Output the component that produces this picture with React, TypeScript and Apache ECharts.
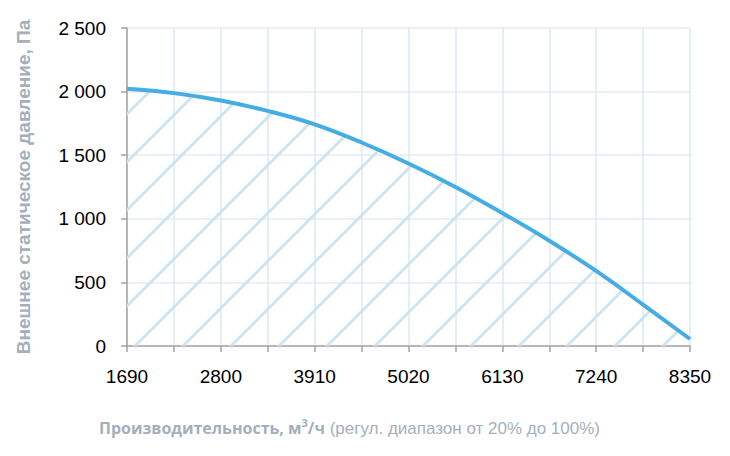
import React, { useEffect, useRef } from "react";
import * as echarts from "echarts";

const flowCategories = ["1690", "2245", "2800", "3355", "3910", "4465", "5020", "5575", "6130", "6685", "7240", "7795", "8350"];
const pressureValues = [2022, 1988, 1930, 1848, 1743, 1600, 1435, 1250, 1045, 828, 590, 325, 55];
const yTicks = { min: 0, max: 2500, interval: 500 };

const LABEL_FONT = '"Liberation Sans", Arial, sans-serif';
const TITLE_GRAY = "#a4afbb";

function hatchTile(): string {
  const s = 48;
  const svg =
    `<svg xmlns="http://www.w3.org/2000/svg" width="${s}" height="${s}">` +
    `<path d="M-2,3 L3,-2 M-2,51 L51,-2 M46,51 L51,46" stroke="#cbe5f1" stroke-width="3" fill="none"/>` +
    `</svg>`;
  return "data:image/svg+xml;charset=utf-8," + encodeURIComponent(svg);
}

function fmtY(v: number): string {
  if (v >= 1000) {
    return Math.floor(v / 1000) + " " + String(v % 1000).padStart(3, "0");
  }
  return String(v);
}

export default function App() {
  const ref = useRef<HTMLDivElement>(null);
  useEffect(() => {
    document.body.style.margin = "0";
    if (!ref.current) return;
    const chart = echarts.init(ref.current, null, { renderer: "svg" });
    chart.setOption({
      animation: false,
      backgroundColor: "#ffffff",
      grid: { left: 127, right: 40, top: 28, bottom: 110, containLabel: false },
      xAxis: {
        type: "category",
        data: flowCategories,
        boundaryGap: false,
        axisLine: { show: true, lineStyle: { color: "#a3a3a3", width: 1.5 } },
        axisTick: { show: true, interval: 0, length: 6, lineStyle: { color: "#a3a3a3", width: 1.5 } },
        axisLabel: { interval: 1, margin: 21, color: "#000", fontSize: 19, fontFamily: LABEL_FONT },
        splitLine: { show: true, interval: 0, lineStyle: { color: "#dee7f2", width: 1.5 } },
      },
      yAxis: {
        type: "value",
        min: yTicks.min,
        max: yTicks.max,
        interval: yTicks.interval,
        name: "Внешнее статическое давление, Па",
        nameLocation: "middle",
        nameRotate: 90,
        nameGap: 94,
        nameTextStyle: { color: TITLE_GRAY, fontSize: 19, fontWeight: "bold", fontFamily: LABEL_FONT },
        axisLine: { show: true, lineStyle: { color: "#a3a3a3", width: 1.5 } },
        axisTick: { show: true, length: 6, lineStyle: { color: "#a3a3a3", width: 1.5 } },
        axisLabel: { margin: 21, color: "#000", fontSize: 19, fontFamily: LABEL_FONT, formatter: fmtY },
        splitLine: { show: true, lineStyle: { color: "#e4ebf4", width: 1.5 } },
      },
      graphic: [
        {
          type: "text",
          left: 99,
          top: 417,
          style: {
            text: "{b|Производительность, м}{s|3}{b|/ч}{n| (регул. диапазон от 20% до 100%)}",
            rich: {
              b: { fontFamily: '"Open Sans", sans-serif', fontWeight: "bold", fontSize: 16, fill: TITLE_GRAY, lineHeight: 22 },
              s: { fontFamily: '"Open Sans", sans-serif', fontWeight: "bold", fontSize: 11, fill: TITLE_GRAY, lineHeight: 22, verticalAlign: "top" },
              n: { fontFamily: LABEL_FONT, fontSize: 17, fill: TITLE_GRAY, lineHeight: 22 },
            },
          },
        },
      ],
      series: [
        {
          type: "line",
          data: pressureValues,
          smooth: 0.4,
          symbol: "none",
          lineStyle: { color: "#45ade3", width: 4 },
          areaStyle: {
            color: { image: hatchTile(), repeat: "repeat", imageWidth: 48, imageHeight: 48 },
            opacity: 1,
          },
          z: 3,
        },
      ],
    });
    return () => chart.dispose();
  }, []);
  return <div ref={ref} style={{ width: 730, height: 456 }} />;
}
